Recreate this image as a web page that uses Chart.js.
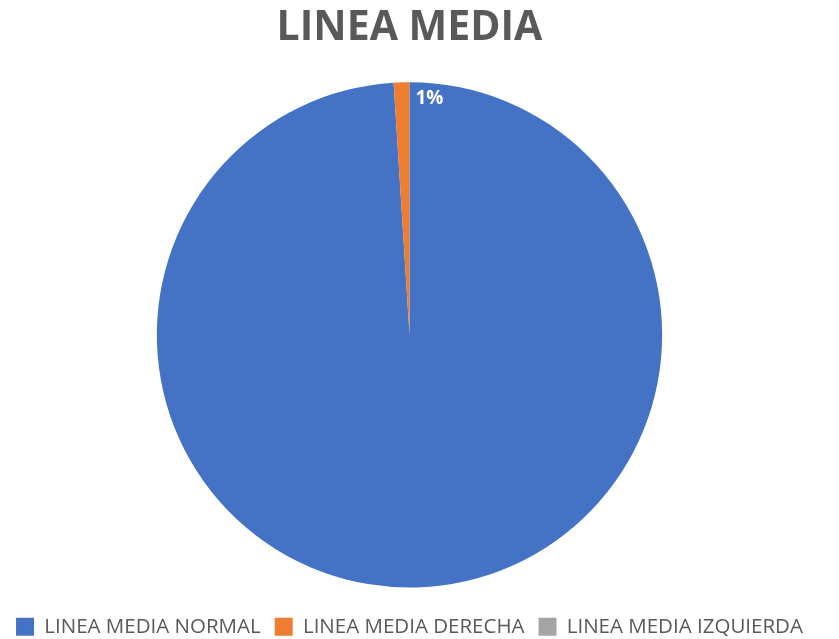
<!DOCTYPE html>
<html>
<head>
<meta charset="utf-8">
<script src="https://cdn.jsdelivr.net/npm/chart.js@4/dist/chart.umd.min.js"></script>
<style>
  html, body { margin: 0; padding: 0; background: #ffffff; }
  #wrap { width: 839px; height: 639px; }
</style>
</head>
<body>
<div id="wrap"><canvas id="c" width="839" height="639"></canvas></div>
<script>
const chartTitle = 'LINEA MEDIA';
const categories = ['LINEA MEDIA NORMAL', 'LINEA MEDIA DERECHA', 'LINEA MEDIA IZQUIERDA'];
const values = [99, 1, 0];
const sliceColors = ['#4472C4', '#ED7D31', '#A5A5A5'];
// Only the small slice carries a percentage label
const labelledSlices = [1];

const sliceLabels = {
  id: 'sliceLabels',
  afterDatasetsDraw(chart) {
    const ctx = chart.ctx;
    const meta = chart.getDatasetMeta(0);
    const total = values.reduce((a, b) => a + b, 0);
    ctx.save();
    ctx.fillStyle = '#ffffff';
    ctx.font = 'bold 19px "Open Sans", sans-serif';
    ctx.textAlign = 'left';
    ctx.textBaseline = 'middle';
    labelledSlices.forEach(i => {
      const arc = meta.data[i];
      const p = arc.getProps(['x', 'y', 'endAngle', 'outerRadius'], true);
      const r = p.outerRadius * 0.94;
      const px = p.x + Math.cos(p.endAngle) * r;
      const py = p.y + Math.sin(p.endAngle) * r;
      const pct = Math.round(values[i] / total * 100) + '%';
      ctx.fillText(pct, px + 6, py + 1);
    });
    ctx.restore();
  }
};

new Chart(document.getElementById('c'), {
  type: 'pie',
  data: {
    labels: categories,
    datasets: [{
      data: values,
      backgroundColor: sliceColors,
      borderWidth: 0,
      radius: '94.4%'
    }]
  },
  options: {
    responsive: false,
    animation: false,
    layout: { padding: { top: 0, bottom: -8, left: 0, right: 20 } },
    plugins: {
      title: {
        display: true,
        text: chartTitle,
        color: '#595959',
        font: { family: '"Open Sans", sans-serif', size: 41, weight: 'bold' },
        padding: { top: 4, bottom: 14 }
      },
      legend: {
        position: 'bottom',
        labels: {
          color: '#595959',
          font: { family: '"Open Sans", sans-serif', size: 20.5 },
          boxWidth: 18,
          boxHeight: 18,
          padding: 14
        }
      },
      tooltip: { enabled: false }
    }
  },
  plugins: [sliceLabels]
});
</script>
</body>
</html>
